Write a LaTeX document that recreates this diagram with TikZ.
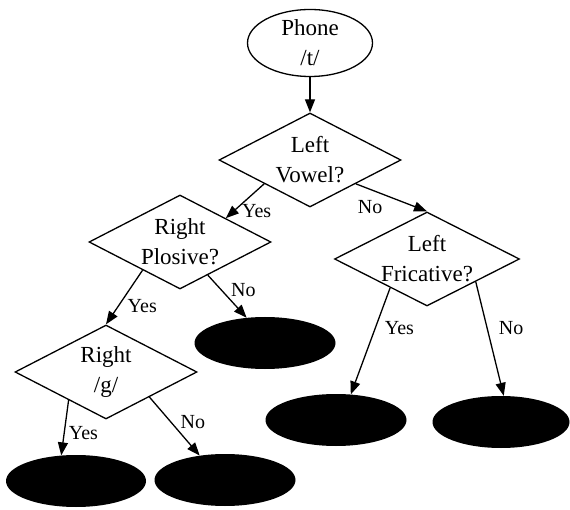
\documentclass[tikz,border=0pt]{standalone}
\usepackage{fontspec}
\setmainfont{Liberation Serif}
\usetikzlibrary{positioning,arrows.meta,shapes.geometric}

\begin{document}
\begin{tikzpicture}[
  node distance=10pt, on grid,
  phonebox/.style={draw, line width=1.3pt, shape=ellipse, minimum width=125pt, minimum height=67pt, inner sep=0pt, align=center, font=\fontsize{23}{30}\selectfont},
  question/.style={draw, line width=1.3pt, shape=diamond, aspect=2, minimum width=182pt, minimum height=94pt, inner sep=0pt, align=center, font=\fontsize{23}{30}\selectfont},
  leaf/.style={fill=black, shape=ellipse, minimum width=141pt, minimum height=52pt, inner sep=0pt},
  arrow/.style={-{Triangle[length=13pt,width=10pt]}, line width=1.3pt},
  lbl/.style={inner sep=1pt, font=\fontsize{20}{22}\selectfont}
]
\useasboundingbox (0pt,0pt) rectangle (570pt,-510pt);
\node[phonebox] (phone) at (310pt,-43pt) {Phone\\/t/};
\node[question, below=117pt of phone] (vowel) {Left\\Vowel?};
\node[question, below left=82pt and 130pt of vowel] (plosive) {Right\\Plosive?};
\node[question, below right=99pt and 117pt of vowel] (fric) {Left\\Fricative?};
\node[question, below left=130pt and 74pt of plosive] (rightg) {Right\\/g/};
\node[leaf, below right=101pt and 85pt of plosive] (leafa) {};
\node[leaf, below left=161pt and 91pt of fric] (leafb) {};
\node[leaf, below right=163pt and 74pt of fric, minimum width=137pt] (leafc) {};
\node[leaf, below left=109pt and 30pt of rightg, minimum width=140pt] (leafd) {};
\node[leaf, below right=108pt and 119pt of rightg] (leafe) {};

\draw[arrow] (phone.south) -- (vowel.north);
\draw[arrow] (vowel.south west) -- node[lbl, pos=0.8, right=7pt] {Yes} (plosive.north east);
\draw[arrow] (vowel.south east) -- node[lbl, pos=0.2, below=9pt] {No} (fric.north);
\draw[arrow] (plosive.217) -- node[lbl, pos=0.67, right=8pt] {Yes} (rightg.north);
\draw[arrow] (plosive.-50) -- node[lbl, pos=0.35, right=8pt] {No} (leafa.126);
\draw[arrow] (fric.218) -- node[lbl, pos=0.38, right=8pt] {Yes} (leafb.60);
\draw[arrow] (fric.-25) -- node[lbl, pos=0.41, right=10pt] {No} (leafc.84);
\draw[arrow] (rightg.217) -- node[lbl, pos=0.6, right=3pt] {Yes} (leafd.120);
\draw[arrow] (rightg.-30) -- node[lbl, pos=0.43, right=8pt] {No} (leafe.136);
\end{tikzpicture}
\end{document}
